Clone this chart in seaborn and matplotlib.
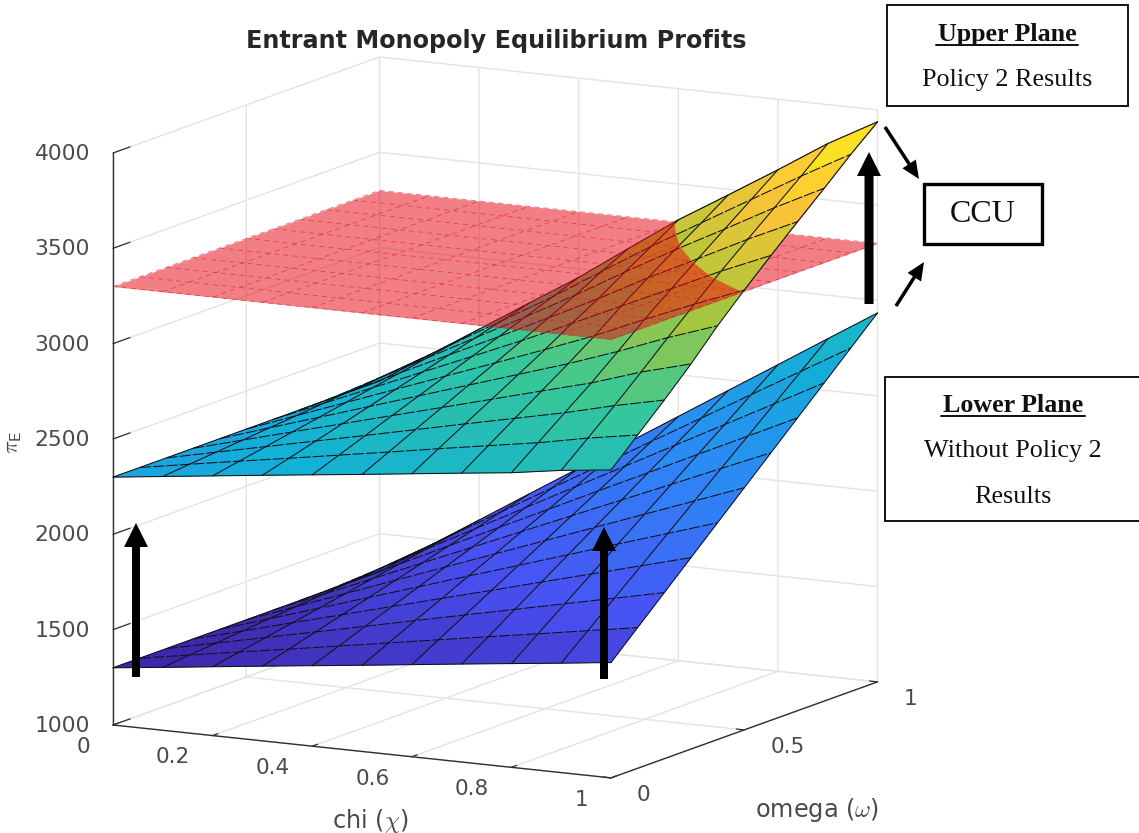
import numpy as np
import matplotlib
matplotlib.use("Agg")
import matplotlib.pyplot as plt
from matplotlib.colors import Normalize
from matplotlib.lines import Line2D
from matplotlib.patches import FancyArrow, Rectangle
from matplotlib.text import Text
from matplotlib.transforms import Affine2D, IdentityTransform
from mpl_toolkits.mplot3d import proj3d
from mpl_toolkits.mplot3d.art3d import Poly3DCollection
import seaborn as sns

# ---------- data ----------
chi = [0.0, 0.1, 0.2, 0.3, 0.4, 0.5, 0.6, 0.7, 0.8, 0.9, 1.0]
omega = [0.0, 0.1, 0.2, 0.3, 0.4, 0.5, 0.6, 0.7, 0.8, 0.9, 1.0]
profit_lower = [
    [1300, 1330, 1361, 1392, 1422, 1452, 1483, 1514, 1544, 1574, 1605],
    [1300, 1344, 1388, 1431, 1475, 1519, 1563, 1607, 1650, 1694, 1738],
    [1300, 1357, 1414, 1471, 1528, 1586, 1643, 1700, 1757, 1814, 1871],
    [1300, 1370, 1441, 1511, 1582, 1652, 1722, 1793, 1863, 1934, 2004],
    [1300, 1384, 1467, 1551, 1635, 1719, 1802, 1886, 1970, 2053, 2137],
    [1300, 1397, 1494, 1591, 1688, 1785, 1882, 1979, 2076, 2173, 2270],
    [1300, 1410, 1521, 1631, 1741, 1852, 1962, 2072, 2182, 2293, 2403],
    [1300, 1424, 1547, 1671, 1794, 1918, 2042, 2165, 2289, 2412, 2536],
    [1300, 1437, 1574, 1711, 1848, 1985, 2121, 2258, 2395, 2532, 2669],
    [1300, 1450, 1600, 1751, 1901, 2051, 2201, 2351, 2502, 2652, 2802],
    [1300, 1464, 1627, 1791, 1954, 2118, 2281, 2445, 2608, 2772, 2935],
]
profit_upper = [
    [2300, 2331, 2362, 2393, 2423, 2453, 2484, 2515, 2545, 2585, 2615],
    [2300, 2345, 2389, 2432, 2476, 2520, 2565, 2609, 2652, 2704, 2748],
    [2300, 2358, 2415, 2472, 2529, 2587, 2645, 2702, 2759, 2824, 2881],
    [2300, 2371, 2442, 2512, 2583, 2653, 2724, 2795, 2865, 2950, 3020],
    [2300, 2385, 2468, 2552, 2636, 2720, 2804, 2888, 2980, 3080, 3170],
    [2300, 2398, 2495, 2592, 2689, 2786, 2884, 2985, 3098, 3205, 3307],
    [2300, 2411, 2522, 2632, 2742, 2853, 2970, 3090, 3208, 3328, 3438],
    [2300, 2425, 2548, 2672, 2795, 2922, 3050, 3188, 3315, 3445, 3565],
    [2300, 2438, 2575, 2712, 2849, 2990, 3140, 3283, 3420, 3560, 3690],
    [2300, 2451, 2601, 2752, 2902, 3065, 3225, 3375, 3525, 3675, 3818],
    [2300, 2465, 2628, 2792, 2955, 3135, 3312, 3470, 3630, 3795, 3937],
]
plane_level = 3300
chi_ticks = [0, 0.2, 0.4, 0.6, 0.8, 1]
chi_tick_labels = ["0", "0.2", "0.4", "0.6", "0.8", "1"]
omega_ticks = [0, 0.5, 1]
omega_tick_labels = ["0", "0.5", "1"]
profit_ticks = [1000, 1500, 2000, 2500, 3000, 3500, 4000]
parula_stops = ["#3E26A8", "#4852F4", "#2D87F7", "#12B1D6", "#37C897", "#ABC739", "#FEC338", "#F9FB15"]

# ---------- style ----------
W, H = 1139, 833
DPI = 100
sns.set_theme(style="white")
plt.rcParams["font.family"] = ["DejaVu Sans"]
plt.rcParams["mathtext.fontset"] = "cm"
TXT = "#4a4a4a"
parula = sns.blend_palette(parula_stops, n_colors=256, as_cmap=True)
norm_lower = Normalize(1300, 4570)
norm_upper = Normalize(1263, 3991)

fig = plt.figure(figsize=(W / DPI, H / DPI), dpi=DPI, facecolor="white")
S0 = 800.0
ax = fig.add_axes([0.1, 0.1, S0 / W, S0 / H], projection="3d", proj_type="ortho", computed_zorder=False)
ax.view_init(elev=11.28, azim=-61.5)
ax.set_box_aspect((566.7, 558.6, 583.3))
ax.set_xlim(0, 1)
ax.set_ylim(0, 1)
ax.set_zlim(1000, 4000)

X, Y = np.meshgrid(chi, omega)
Zl = np.array(profit_lower, float)
Zu = np.array(profit_upper, float)


def mesh(Z, z0, color="#101018", lw=0.75, alpha=1.0, clip=None):
    """Draw the wire mesh of one sheet; lines of constant omega are dashed as in the source."""
    for j in range(X.shape[0]):
        z = Z[j].copy()
        x = X[j].copy()
        y = Y[j].copy()
        edge = j in (0, X.shape[0] - 1)
        style = "-" if edge else (0, (11, 1.8))
        if clip is not None:
            x, y, z = clip(x, y, z)
            if len(x) < 2:
                continue
        ax.plot(x, y, z, color=color, lw=lw, ls=style, alpha=alpha, zorder=z0)
    for i in range(X.shape[1]):
        z = Z[:, i].copy()
        x = X[:, i].copy()
        y = Y[:, i].copy()
        if clip is not None:
            x, y, z = clip(x, y, z)
            if len(x) < 2:
                continue
        ax.plot(x, y, z, color=color, lw=lw, ls="-", alpha=alpha, zorder=z0)


def clip_line_above(x, y, z):
    """Keep the part of a mesh line above the red plane."""
    px_, py_, pz_ = [], [], []
    for k in range(len(x)):
        if k > 0 and (z[k - 1] - plane_level) * (z[k] - plane_level) < 0:
            t = (plane_level - z[k - 1]) / (z[k] - z[k - 1])
            px_.append(x[k - 1] + t * (x[k] - x[k - 1]))
            py_.append(y[k - 1] + t * (y[k] - y[k - 1]))
            pz_.append(plane_level)
        if z[k] >= plane_level:
            px_.append(x[k]); py_.append(y[k]); pz_.append(z[k])
    return np.array(px_), np.array(py_), np.array(pz_)


def clip_poly_above(pts):
    """Sutherland-Hodgman clip of one mesh cell against the plane."""
    out = []
    n = len(pts)
    for k in range(n):
        a, b = pts[k], pts[(k + 1) % n]
        ina, inb = a[2] >= plane_level, b[2] >= plane_level
        if ina:
            out.append(a)
        if ina != inb:
            t = (plane_level - a[2]) / (b[2] - a[2])
            out.append(tuple(a[m] + t * (b[m] - a[m]) for m in range(3)))
    return out


def sheet(Z, z0, norm, clipper=None):
    polys, cols = [], []
    for j in range(X.shape[0] - 1):
        for i in range(X.shape[1] - 1):
            cell = [(X[j, i], Y[j, i], Z[j, i]), (X[j, i + 1], Y[j, i + 1], Z[j, i + 1]),
                    (X[j + 1, i + 1], Y[j + 1, i + 1], Z[j + 1, i + 1]), (X[j + 1, i], Y[j + 1, i], Z[j + 1, i])]
            shape = clipper(cell) if clipper else cell
            if len(shape) >= 3:
                polys.append(shape)
                cols.append(parula(norm(np.mean([c[2] for c in cell]))))
    pc = Poly3DCollection(polys, zorder=z0)
    ax.add_collection3d(pc)
    pc.set_facecolor(cols)
    pc.set_edgecolor(cols)
    pc.set_linewidth(0.35)


sheet(Zl, 1, norm_lower)
mesh(Zl, 2)
sheet(Zu, 3, norm_upper)
mesh(Zu, 4)
# translucent red plane
Zp = np.full(X.shape, float(plane_level))
ax.plot_surface(X, Y, Zp, color="#E8000F", alpha=0.5, rstride=10, cstride=10, linewidth=0,
                shade=False, zorder=5)
for j in range(X.shape[0]):
    ax.plot(X[j], Y[j], Zp[j], color="#D8202C", lw=0.6, ls=(0, (6, 5)), alpha=0.65, zorder=6)
for i in range(X.shape[1]):
    ax.plot(X[:, i], Y[:, i], Zp[:, i], color="#D8202C", lw=0.6, ls=(0, (6, 5)), alpha=0.65, zorder=6)
# part of the upper sheet rising through the plane
sheet(Zu, 7, norm_upper, clip_poly_above)
mesh(Zu, 8, clip=clip_line_above)

# ---------- axes furniture ----------
ax.set_xticks(chi_ticks, chi_tick_labels)
ax.set_yticks(omega_ticks, omega_tick_labels)
ax.set_zticks(profit_ticks)
ax.set_xlim(0, 1)
ax.set_ylim(0, 1)
ax.set_zlim(1000, 4000)
ax.zaxis.set_ticks_position("lower")
ax.zaxis.set_label_position("lower")
ax.xaxis.set_rotate_label(False)
ax.yaxis.set_rotate_label(False)
ax.zaxis.set_rotate_label(False)
tick_reach = {"x": 0.25, "y": 0.2, "z": 0.8}
for name, axis in (("x", ax.xaxis), ("y", ax.yaxis), ("z", ax.zaxis)):
    axis.set_pane_color((1, 1, 1, 1))
    axis.pane.set_edgecolor((1, 1, 1, 0))
    axis.line.set_color("#303030")
    axis.line.set_linewidth(1.0)
    axis._axinfo["grid"].update(color="#E3E3E3", linewidth=1.0)
    axis._axinfo["tick"].update(inward_factor=0.0, outward_factor=tick_reach[name],
                                linewidth={True: 0.9, False: 0.9}, color="#303030")
ax.tick_params(axis="both", labelsize=15.5, labelcolor=TXT, color="#303030")
ax.tick_params(axis="x", pad=14)
ax.tick_params(axis="y", pad=10)
ax.tick_params(axis="z", pad=0, labelsize=15.7)


def nudge_labels(axis, ha, va, dx, dy):
    """Align one axis's tick labels and keep a pixel offset on top of the 3D placement."""
    shift = Affine2D().translate(dx, dy)
    for t in axis.get_major_ticks():
        lab = t.label1
        lab.set_ha(ha)
        lab.set_va(va)
        lab.set_transform = (lambda tr, lab=lab: Text.set_transform(lab, tr + shift))


nudge_labels(ax.xaxis, "right", "bottom", -6, 9)
nudge_labels(ax.yaxis, "left", "bottom", 1, 4.5)
nudge_labels(ax.zaxis, "right", "center", -6, 0)
ax.xaxis._axinfo["label"]["ha"] = "left"
ax.set_xlabel(r"chi ($\chi$)", fontsize=17.3, color=TXT, labelpad=16)
ax.set_ylabel(r"omega ($\omega$)", fontsize=17.3, color=TXT, labelpad=30)
ax.set_zlabel(r"$\pi_{\mathsf{E}}$", fontsize=16, color=TXT, rotation=90, labelpad=28)
ax.grid(True)
for lab, (dx, dy) in ((ax.xaxis.label, (-3, -1)), (ax.yaxis.label, (2, 9)), (ax.zaxis.label, (5, 3))):
    lab.get_transform = (lambda s=Affine2D().translate(dx, dy): ax.transData + s)


# ---------- place the box so its corners land where they do in the source ----------
def px(x, y, z):
    ax.M = ax.get_proj()
    a, b, _ = proj3d.proj_transform(x, y, z, ax.M)
    return ax.transData.transform((a, b))


fig.canvas.draw()
pa, pb = px(0, 0, 1000), px(1, 0, 1000)
S1 = S0 * 498.0 / (pb[0] - pa[0])
ax.set_position([0.1, 0.1, S1 / W, S1 / H])
fig.canvas.draw()
pa = px(0, 0, 1000)
dx, dy = 113 - pa[0], (H - 725) - pa[1]
ax.set_position([0.1 + dx / W, 0.1 + dy / H, S1 / W, S1 / H])
fig.canvas.draw()
inv = ax.transAxes.inverted()
tx, ty = inv.transform((496, H - 49))
ax.set_title("Entrant Monopoly Equilibrium Profits", fontsize=17.2, fontweight="bold", color="#262626",
             x=tx, y=ty / 0.92, va="center", ha="center")

# ---------- annotation overlay, placed in source pixels ----------
def yy(v):
    return H - v


def box(x0, y0, x1, y1, lw):
    fig.add_artist(Rectangle((x0, yy(y1)), x1 - x0, y1 - y0, transform=IdentityTransform(),
                             facecolor="white", edgecolor="black", linewidth=lw, zorder=5))


def arrow(x0, y0, x1, y1, w, hw, hl):
    fig.add_artist(FancyArrow(x0, yy(y0), x1 - x0, y0 - y1, width=w, head_width=hw, head_length=hl,
                              length_includes_head=True, transform=IdentityTransform(),
                              facecolor="black", edgecolor="none", zorder=6))


def label(x, y, s, size, weight="normal"):
    fig.text(x / W, 1 - y / H, s, fontsize=size, fontweight=weight, family="Liberation Serif",
             color="#101010", ha="center", va="center", zorder=7)


box(887, 5, 1128, 106, 1.3)
box(885, 377, 1142, 521, 1.3)
box(924, 184, 1042, 244, 2.4)
label(1007, 34, "Upper Plane", 18.7, "bold")
fig.add_artist(Line2D([936, 1078], [yy(45), yy(45)], transform=IdentityTransform(), color="#101010", lw=1.4, zorder=7))
label(1007, 80, "Policy 2 Results", 18.8)
label(1013, 405, "Lower Plane", 18.7, "bold")
fig.add_artist(Line2D([941, 1085], [yy(416), yy(416)], transform=IdentityTransform(), color="#101010", lw=1.4, zorder=7))
label(1013, 451, "Without Policy 2", 18.8)
label(1013, 497, "Results", 18.8)
label(983, 215, "CCU", 23)
arrow(136, 677, 136, 523, 8, 24, 24)
arrow(604, 679, 604, 527, 8, 24, 24)
arrow(869, 304, 869, 152, 9, 24, 24)
arrow(885, 127, 919, 179, 3.5, 16, 18)
arrow(896, 306, 924, 262, 3.5, 16, 18)

fig.savefig("out.png", dpi=DPI, facecolor="white")
